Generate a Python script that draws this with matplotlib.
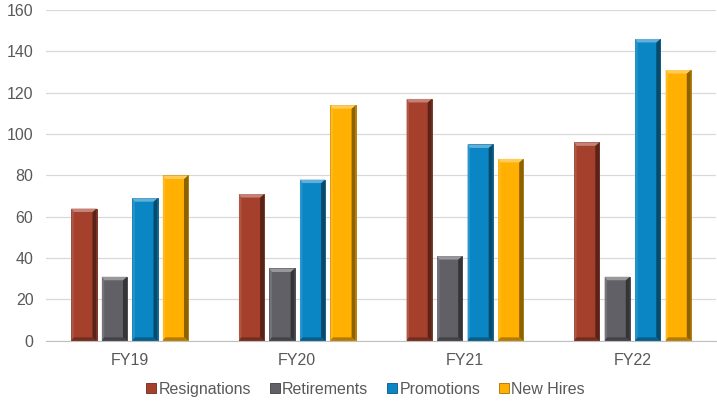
import numpy as np
import matplotlib.pyplot as plt
from matplotlib.patches import Polygon
from matplotlib.colors import to_rgb

years = ['FY19', 'FY20', 'FY21', 'FY22']
series = ['Resignations', 'Retirements', 'Promotions', 'New Hires']
resignations = [64, 71, 117, 96]
retirements = [31, 35, 41, 31]
promotions = [69, 78, 95, 146]
new_hires = [80, 114, 88, 131]
values = [resignations, retirements, promotions, new_hires]

colors = ['#A4402C', '#606066', '#0A86C4', '#FFB000']

plt.rcParams['font.family'] = ['Liberation Sans', 'DejaVu Sans']
TEXT = '#595959'


def shade(c, f):
    r, g, b = to_rgb(c)
    if f < 0:
        return (r * (1 + f), g * (1 + f), b * (1 + f))
    return (r + (1 - r) * f, g + (1 - g) * f, b + (1 - b) * f)


fig = plt.figure(figsize=(7.17, 4.01), dpi=100)
ax = fig.add_axes([0.064, 0.150, 0.935, 0.825])

x = np.arange(len(years))
pitch = 0.182
width = 0.15
ymax = 160
cap = ymax / 331 * 3.5   # bevel height in data units

for i, (name, vals, col) in enumerate(zip(series, values, colors)):
    offs = (i - 1.5) * pitch
    bars = ax.bar(x + offs, vals, width, color=col, label=name, zorder=2,
                  edgecolor=shade(col, -0.35), linewidth=0.6)
    for b in bars:
        x0, w, h = b.get_x(), b.get_width(), b.get_height()
        e = w * 0.16
        # dark right side
        ax.add_patch(Polygon([(x0 + w - e, cap), (x0 + w, 0), (x0 + w, h),
                              (x0 + w - e, h - cap)], closed=True,
                             facecolor=shade(col, -0.45), lw=0, zorder=3))
        # light left side
        ax.add_patch(Polygon([(x0, 0), (x0 + e * 0.6, cap), (x0 + e * 0.6, h - cap),
                              (x0, h)], closed=True,
                             facecolor=shade(col, 0.12), lw=0, zorder=3))
        # bottom dark
        ax.add_patch(Polygon([(x0, 0), (x0 + w, 0), (x0 + w - e, cap),
                              (x0 + e * 0.6, cap)], closed=True,
                             facecolor=shade(col, -0.3), lw=0, zorder=3))
        # light top cap
        ax.add_patch(Polygon([(x0, h), (x0 + w, h), (x0 + w - e, h - cap),
                              (x0 + e * 0.6, h - cap)], closed=True,
                             facecolor=shade(col, 0.35), lw=0, zorder=3))

ax.set_xlim(-0.5, len(years) - 0.5)
ax.set_ylim(0, ymax)
ax.set_yticks(np.arange(0, 161, 20))
ax.set_xticks(x)
ax.set_xticklabels(years)
ax.tick_params(axis='both', length=0, labelsize=11.5, colors=TEXT)
ax.tick_params(axis='x', pad=9)
ax.tick_params(axis='y', pad=9)
ax.grid(axis='y', color='#D9D9D9', linewidth=0.9, zorder=0)
for s in ['top', 'right', 'left']:
    ax.spines[s].set_visible(False)
ax.spines['bottom'].set_color('#BFBFBF')
ax.spines['bottom'].set_zorder(4)

leg = fig.legend(loc='lower center', ncol=4, frameon=False, fontsize=11.5,
                 bbox_to_anchor=(0.51, -0.025), handlelength=0.6, handleheight=0.6,
                 handletextpad=0.15, columnspacing=1.2)
for t in leg.get_texts():
    t.set_color(TEXT)

fig.savefig('out.png', dpi=100)
